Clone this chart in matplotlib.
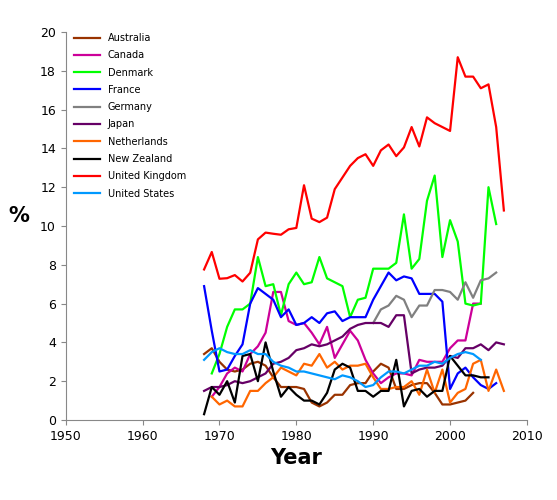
import matplotlib
matplotlib.use("Agg")
import matplotlib.pyplot as plt

yrs = list(range(1968, 2008))
def yr(start, vals): return list(range(start, start+len(vals))), vals

australia = [3.4,3.7,3.0,2.6,2.5,2.6,2.9,3.0,2.8,2.2,1.7,1.7,1.7,1.6,0.9,0.7,0.9,1.3,1.3,1.8,1.9,1.9,2.5,2.9,2.7,1.6,1.6,1.8,1.9,1.9,1.4,0.8,0.8,0.9,1.0,1.4]
canada = [1.2,1.7,2.4,2.7,2.5,3.4,3.8,4.5,6.6,6.6,5.1,4.9,5.0,4.5,3.9,4.8,3.2,3.9,4.6,4.1,3.1,2.4,1.9,2.2,2.4,2.4,2.3,3.1,3.0,3.0,3.0,3.7,4.1,4.1,6.0,6.0]
denmark = [2.4,3.4,4.8,5.7,5.7,6.0,8.4,6.9,7.0,5.4,7.0,7.6,7.0,7.1,8.4,7.3,7.1,6.9,5.3,6.2,6.3,7.8,7.8,7.8,8.1,10.6,7.8,8.3,11.3,12.6,8.4,10.3,9.2,6.0,5.9,6.0,12.0,10.1]
france = [6.9,4.6,2.5,2.6,3.3,3.9,6.0,6.8,6.5,6.2,5.3,5.7,4.9,5.0,5.3,5.0,5.5,5.6,5.1,5.3,5.3,5.3,6.2,6.9,7.6,7.2,7.4,7.3,6.5,6.5,6.5,6.1,1.6,2.4,2.7,2.2,1.8,1.6,1.9]
germany = [5.0,5.7,5.9,6.4,6.2,5.3,5.9,5.9,6.7,6.7,6.6,6.2,7.1,6.3,7.2,7.3,7.6]
japan = [1.5,1.7,1.7,1.8,2.0,1.9,2.0,2.2,2.4,2.9,3.0,3.2,3.6,3.7,3.9,3.8,3.9,4.1,4.3,4.7,4.9,5.0,5.0,5.0,4.8,5.4,5.4,2.4,2.6,2.7,2.7,2.8,3.3,3.2,3.7,3.7,3.9,3.6,4.0,3.9]
netherlands = [1.2,0.8,1.0,0.7,0.7,1.5,1.5,1.9,2.2,2.7,2.5,2.3,2.9,2.8,3.4,2.7,3.0,2.6,2.8,2.8,2.9,2.2,1.6,1.6,1.7,1.7,2.0,1.3,2.6,1.4,2.6,0.9,1.4,1.6,2.9,3.1,1.5,2.6,1.5]
newzealand = [0.3,1.7,1.3,2.0,0.9,3.3,3.4,2.0,4.0,2.5,1.2,1.7,1.3,1.0,1.0,0.8,1.4,2.6,2.9,2.7,1.5,1.5,1.2,1.5,1.5,3.1,0.7,1.5,1.6,1.2,1.5,1.5,3.3,2.8,2.3,2.3,2.2,2.2]
uk = [7.76,8.66,7.28,7.31,7.47,7.14,7.59,9.31,9.66,9.6,9.55,9.83,9.9,12.1,10.38,10.2,10.43,11.9,12.5,13.1,13.5,13.7,13.1,13.9,14.2,13.6,14.05,15.1,14.1,15.6,15.3,15.1,14.9,18.7,17.7,17.7,17.1,17.3,15.1,10.8]
us = [3.1,3.5,3.7,3.5,3.4,3.4,3.6,3.4,3.4,3.0,2.8,2.7,2.5,2.5,2.4,2.3,2.2,2.1,2.3,2.2,2.0,1.7,1.8,2.2,2.5,2.5,2.4,2.6,2.8,2.8,3.0,2.9,3.2,3.4,3.5,3.4,3.1]

series = [
    ("Australia", 1968, australia, "#993300"),
    ("Canada", 1969, canada, "#CC0099"),
    ("Denmark", 1969, denmark, "#00FF00"),
    ("France", 1968, france, "#0000FF"),
    ("Germany", 1990, germany, "#808080"),
    ("Japan", 1968, japan, "#660066"),
    ("Netherlands", 1969, netherlands, "#FF6600"),
    ("New Zealand", 1968, newzealand, "#000000"),
    ("United Kingdom", 1968, uk, "#FF0000"),
    ("United States", 1968, us, "#0099FF"),
]

fig = plt.figure(figsize=(5.57, 5.0), dpi=100)
ax = fig.add_axes([0.118, 0.16, 0.828, 0.776])
for name, s, vals, c in series:
    ax.plot(range(s, s+len(vals)), vals, color=c, lw=1.6, label=name)
ax.set_xlim(1950, 2010)
ax.set_ylim(0, 20)
ax.set_xticks(range(1950, 2011, 10))
ax.set_yticks(range(0, 21, 2))
for sp in ["top", "right"]:
    ax.spines[sp].set_visible(False)
for sp in ["left", "bottom"]:
    ax.spines[sp].set_color("#888888")
ax.tick_params(colors="#888888", labelcolor="black", labelsize=9, direction="out")
ax.set_xlabel("Year", fontsize=15, fontweight="bold")
ax.set_ylabel("%", fontsize=15, fontweight="bold", rotation=0, labelpad=15)
ax.legend(loc="upper left", frameon=False, fontsize=7, handlelength=2.6,
          bbox_to_anchor=(0.0, 1.02), labelspacing=0.75)
fig.savefig("out.png", dpi=100)
